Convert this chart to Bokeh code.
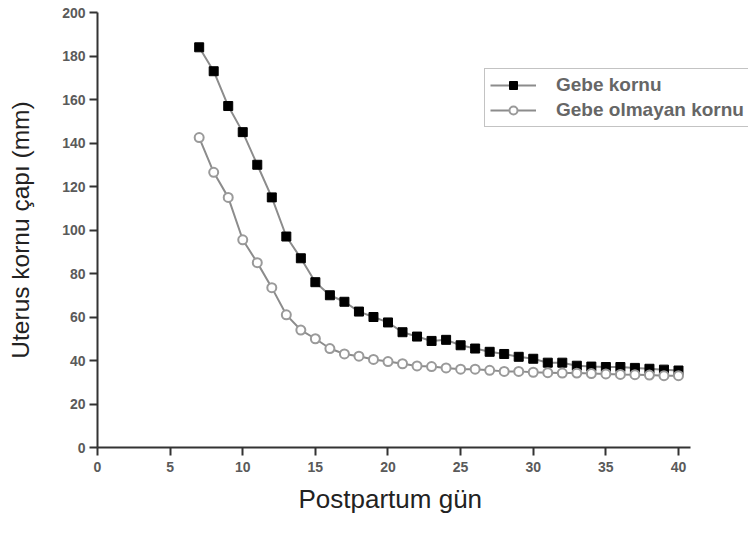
from bokeh.plotting import figure
from bokeh.models import Range1d, Legend, LegendItem, FixedTicker, Title
from bokeh.embed import file_html
from bokeh.resources import INLINE

days = list(range(7, 41))
gebe_kornu = [184, 173, 157, 145, 130, 115, 97, 87, 76, 70, 67, 62.5, 60, 57.5,
              53, 51, 49, 49.5, 47, 45.5, 44, 43, 41.7, 40.8, 39, 39, 37.6, 37.2,
              37, 37, 36.6, 36.2, 35.8, 35.4]
gebe_olmayan = [142.5, 126.5, 115, 95.5, 85, 73.5, 61, 54, 50, 45.5, 43, 42, 40.5,
                39.5, 38.5, 37.5, 37.2, 36.6, 36, 36, 35.5, 35, 35, 34.6, 34.4, 34.2,
                34.2, 34, 33.8, 33.6, 33.5, 33.3, 33, 33]
x_ticks = [0, 5, 10, 15, 20, 25, 30, 35, 40]
y_ticks = [0, 20, 40, 60, 80, 100, 120, 140, 160, 180, 200]

FONT = "Liberation Sans"

p = figure(width=748, height=520, output_backend="svg", toolbar_location=None,
           x_range=Range1d(0, 44.82), y_range=Range1d(0, 200),
           min_border_left=97, min_border_right=0, min_border_top=12,
           min_border_bottom=10)
p.outline_line_color = None
p.grid.visible = False
p.background_fill_color = "white"

for ax, ticks in ((p.xaxis, x_ticks), (p.yaxis, y_ticks)):
    ax.ticker = FixedTicker(ticks=ticks)
    ax.axis_line_color = "#333333"
    ax.axis_line_width = 2
    ax.major_tick_line_color = "#333333"
    ax.major_tick_line_width = 2
    ax.major_tick_out = 8
    ax.major_tick_in = 0
    ax.minor_tick_line_color = None
    ax.major_label_text_font = FONT
    ax.major_label_text_font_size = "14px"
    ax.major_label_text_font_style = "bold"
    ax.major_label_text_color = "#5a5a5a"
    ax.axis_label_text_font = FONT
    ax.axis_label_text_font_style = "normal"
    ax.axis_label_text_color = "#222222"

p.xaxis.bounds = (0, 40.8)
p.yaxis.bounds = (0, 200)
p.yaxis.axis_label = "Uterus kornu çapı (mm)"
p.yaxis.axis_label_text_font_size = "24.5px"
p.xaxis.major_label_standoff = 6
p.yaxis.major_label_standoff = 4
p.yaxis.axis_label_standoff = 25

xtitle = Title(text="Postpartum gün", align="left", offset=201,
               text_font=FONT, text_font_size="26px", text_font_style="normal",
               text_color="#222222", standoff=14)
p.add_layout(xtitle, "below")

l1 = p.line(days, gebe_kornu, line_color="#8c8c8c", line_width=2)
s1 = p.scatter(days, gebe_kornu, marker="square", size=9, fill_color="black",
               line_color="black")
l2 = p.line(days, gebe_olmayan, line_color="#8c8c8c", line_width=2)
s2 = p.scatter(days, gebe_olmayan, marker="circle", size=9, fill_color="white",
               line_color="#9a9a9a", line_width=2)

legend = Legend(items=[LegendItem(label="Gebe kornu", renderers=[l1, s1]),
                       LegendItem(label="Gebe olmayan kornu", renderers=[l2, s2])],
                location=(387, 320))
legend.border_line_color = "#888888"
legend.border_line_width = 1.5
legend.background_fill_color = "white"
legend.padding = 5
legend.spacing = 3
legend.margin = 0
legend.glyph_width = 46
legend.glyph_height = 20
legend.label_height = 20
legend.label_standoff = 20
legend.label_width = 280
legend.label_text_font = FONT
legend.label_text_font_size = "19px"
legend.label_text_font_style = "bold"
legend.label_text_color = "#666666"
p.add_layout(legend)

open("out.html", "w").write(file_html(p, INLINE))
